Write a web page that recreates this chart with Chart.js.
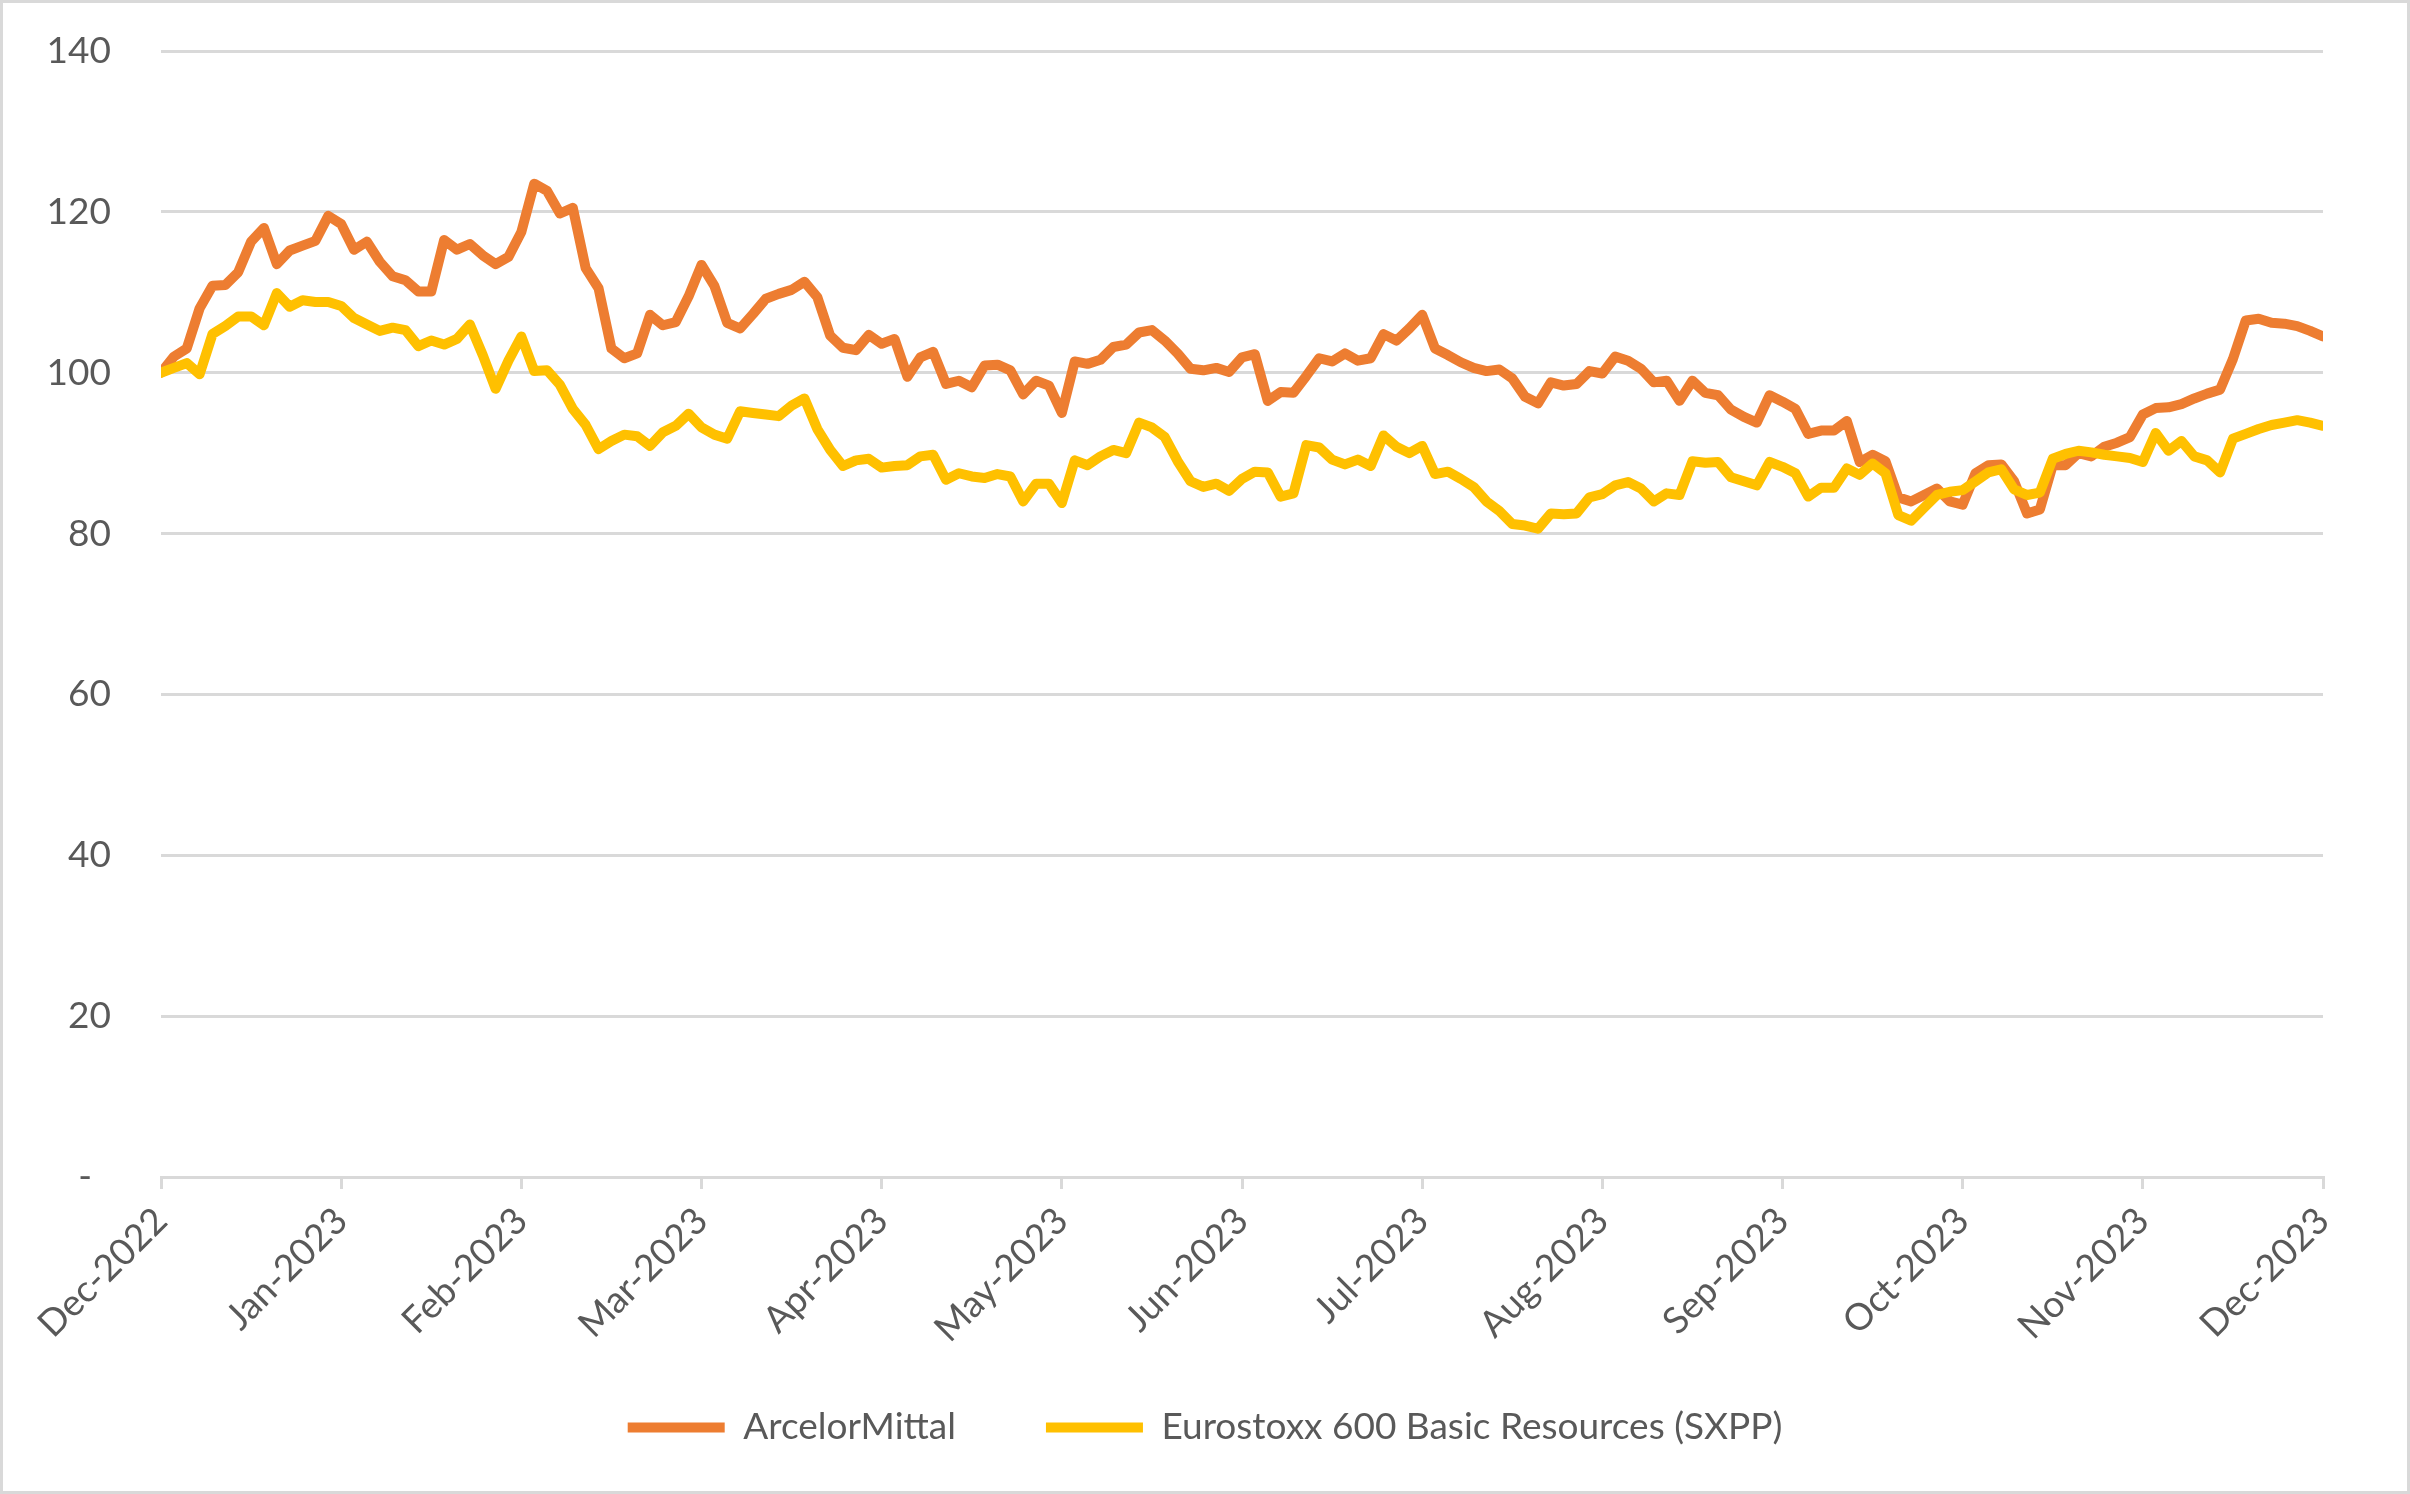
<!DOCTYPE html>
<html>
<head>
<meta charset="utf-8">
<script src="https://cdn.jsdelivr.net/npm/chart.js@4.4.1/dist/chart.umd.min.js"></script>
<style>
  html, body { margin: 0; padding: 0; background: #fff; }
  #wrap {
    width: 2410px; height: 1494px;
    box-sizing: border-box;
    border: 3px solid #d9d9d9;
    background: #fff;
  }
  canvas { display: block; }
</style>
</head>
<body>
<div id="wrap"><canvas id="grafico" width="2404" height="1488"></canvas></div>
<script>
// rebased to 100 at start of Dec-2022, ~14 readings per month
const POINTS_PER_MONTH = 14;

const monthLabels = ["Dec-2022","Jan-2023","Feb-2023","Mar-2023","Apr-2023","May-2023","Jun-2023",
                     "Jul-2023","Aug-2023","Sep-2023","Oct-2023","Nov-2023","Dec-2023"];

const yTicks = [0, 20, 40, 60, 80, 100, 120, 140];

const arcelorMittal = [
  100, 102, 103, 108, 110.8, 110.9, 112.5, 116.3, 118, 113.5, 115.2, 115.8, 116.4, 119.5,
  118.5, 115.3, 116.3, 113.8, 112, 111.5, 110.1, 110.1, 116.5, 115.3, 116, 114.6, 113.5, 114.4,
  117.5, 123.5, 122.6, 119.8, 120.5, 113, 110.5, 103, 101.8, 102.4, 107.2, 105.9, 106.3, 109.5,
  113.4, 110.8, 106.2, 105.5, 107.3, 109.2, 109.8, 110.3, 111.3, 109.4, 104.6, 103.1, 102.8, 104.7,
  103.6, 104.2, 99.5, 101.9, 102.6, 98.6, 99, 98.2, 100.9, 101, 100.3, 97.3, 99, 98.4,
  95, 101.4, 101.1, 101.6, 103.2, 103.5, 105, 105.3, 104, 102.4, 100.5, 100.3, 100.6, 100.1,
  101.9, 102.3, 96.5, 97.6, 97.5, 99.6, 101.8, 101.4, 102.4, 101.5, 101.8, 104.8, 104, 105.5,
  107.2, 103, 102.2, 101.3, 100.6, 100.2, 100.4, 99.3, 97, 96.2, 98.8, 98.4, 98.6, 100.2,
  99.9, 102, 101.5, 100.5, 98.8, 99, 96.5, 99, 97.5, 97.2, 95.4, 94.5, 93.8, 97.2,
  96.4, 95.5, 92.4, 92.8, 92.8, 94, 88.9, 89.8, 89, 84.5, 84, 84.8, 85.6, 84,
  83.6, 87.5, 88.5, 88.6, 86.5, 82.5, 83, 88.5, 88.5, 90, 89.6, 90.8, 91.3, 92,
  94.8, 95.6, 95.7, 96.1, 96.8, 97.4, 97.9, 101.7, 106.5, 106.7, 106.2, 106.1, 105.8, 105.2,
  104.5
];

const sxpp = [
  100, 100.6, 101.2, 99.8, 104.8, 105.8, 107, 107, 105.9, 109.9, 108.2, 109, 108.8, 108.8,
  108.3, 106.8, 106, 105.2, 105.6, 105.3, 103.3, 104, 103.5, 104.2, 106, 102.2, 98, 101.5,
  104.5, 100.2, 100.3, 98.5, 95.5, 93.5, 90.5, 91.5, 92.3, 92.1, 90.9, 92.6, 93.4, 94.9,
  93.2, 92.3, 91.8, 95.2, 95, 94.8, 94.6, 95.9, 96.8, 93, 90.4, 88.4, 89.1, 89.3,
  88.2, 88.4, 88.5, 89.6, 89.8, 86.7, 87.5, 87.1, 86.9, 87.4, 87.1, 84, 86.2, 86.2,
  83.8, 89.1, 88.5, 89.6, 90.4, 90, 93.8, 93.2, 92, 89, 86.5, 85.8, 86.2, 85.3,
  86.8, 87.7, 87.6, 84.6, 85, 91, 90.7, 89.2, 88.6, 89.2, 88.4, 92.2, 90.8, 90,
  90.9, 87.4, 87.7, 86.8, 85.8, 84, 82.8, 81.2, 81, 80.6, 82.5, 82.4, 82.5, 84.5,
  84.9, 86, 86.4, 85.6, 84, 85, 84.8, 89, 88.8, 88.9, 87, 86.5, 86, 88.9,
  88.3, 87.5, 84.6, 85.7, 85.7, 88.1, 87.3, 88.7, 87.5, 82.3, 81.6, 83.2, 84.8, 85.2,
  85.4, 86.5, 87.6, 88, 85.5, 84.8, 85.1, 89.3, 89.9, 90.3, 90.1, 89.8, 89.6, 89.4,
  88.9, 92.5, 90.3, 91.5, 89.6, 89.1, 87.6, 91.8, 92.4, 93, 93.5, 93.8, 94.1, 93.8,
  93.4
];

const FONT = "Lato, 'Open Sans', sans-serif";
const FONT_SIZE = 37;
const TEXT_COLOR = "#595959";
const GRID_COLOR = "#d9d9d9";

function toPoints(arr) {
  return arr.map((v, i) => ({ x: i, y: v }));
}

// labels hang outside their axis box here, so switch the clip off
function noLabelClip(scale) {
  scale._computeLabelArea = () => null;
}

const ctx = document.getElementById("grafico").getContext("2d");

new Chart(ctx, {
  type: "line",
  data: {
    datasets: [
      {
        label: "ArcelorMittal",
        data: toPoints(arcelorMittal),
        borderColor: "#ED7D31",
        backgroundColor: "#ED7D31",
        borderWidth: 10,
        borderCapStyle: "round",
        borderJoinStyle: "round",
        pointRadius: 0,
        tension: 0,
        order: 1
      },
      {
        label: "Eurostoxx 600 Basic Resources (SXPP)",
        data: toPoints(sxpp),
        borderColor: "#FFC000",
        backgroundColor: "#FFC000",
        borderWidth: 10,
        borderCapStyle: "round",
        borderJoinStyle: "round",
        pointRadius: 0,
        tension: 0,
        order: 0
      }
    ]
  },
  options: {
    responsive: false,
    devicePixelRatio: 1,
    animation: false,
    events: [],
    // same padding both sides keeps the legend centred on the canvas
    layout: { padding: { top: 48, right: 84, left: 84, bottom: 35 } },
    plugins: {
      tooltip: { enabled: false },
      legend: {
        display: true,
        position: "bottom",
        labels: {
          usePointStyle: true,
          pointStyle: "line",
          pointStyleWidth: 97,
          padding: 90,
          color: TEXT_COLOR,
          font: { family: FONT, size: FONT_SIZE },
          sort: (a, b) => a.datasetIndex - b.datasetIndex
        }
      }
    },
    scales: {
      x: {
        type: "linear",
        min: 0,
        max: (monthLabels.length - 1) * POINTS_PER_MONTH,
        afterBuildTicks: (scale) => {
          scale.ticks = monthLabels.map((_, i) => ({ value: i * POINTS_PER_MONTH }));
        },
        afterFit: (scale) => {
          scale.height = 142;
          noLabelClip(scale);
        },
        grid: {
          drawOnChartArea: false,
          drawTicks: true,
          tickLength: 12,
          color: GRID_COLOR,
          lineWidth: 3
        },
        border: { display: true, color: GRID_COLOR, width: 3 },
        ticks: {
          autoSkip: false,
          minRotation: 45,
          maxRotation: 45,
          padding: 10,
          color: TEXT_COLOR,
          font: { family: FONT, size: FONT_SIZE },
          callback: (value) => monthLabels[Math.round(value / POINTS_PER_MONTH)]
        }
      },
      y: {
        min: 0,
        max: 140,
        afterBuildTicks: (scale) => {
          scale.ticks = yTicks.map(v => ({ value: v }));
        },
        afterFit: (scale) => {
          scale.width = 74;
          noLabelClip(scale);
        },
        grid: {
          color: GRID_COLOR,
          lineWidth: 3,
          drawTicks: true,
          tickLength: 50,          // invisible, just spaces the labels off the plot
          tickColor: "rgba(0,0,0,0)"
        },
        border: { display: false },
        ticks: {
          padding: 0,
          color: TEXT_COLOR,
          font: { family: FONT, size: FONT_SIZE },
          callback: (value) => value === 0 ? "-  " : value
        }
      }
    }
  }
});
</script>
</body>
</html>
